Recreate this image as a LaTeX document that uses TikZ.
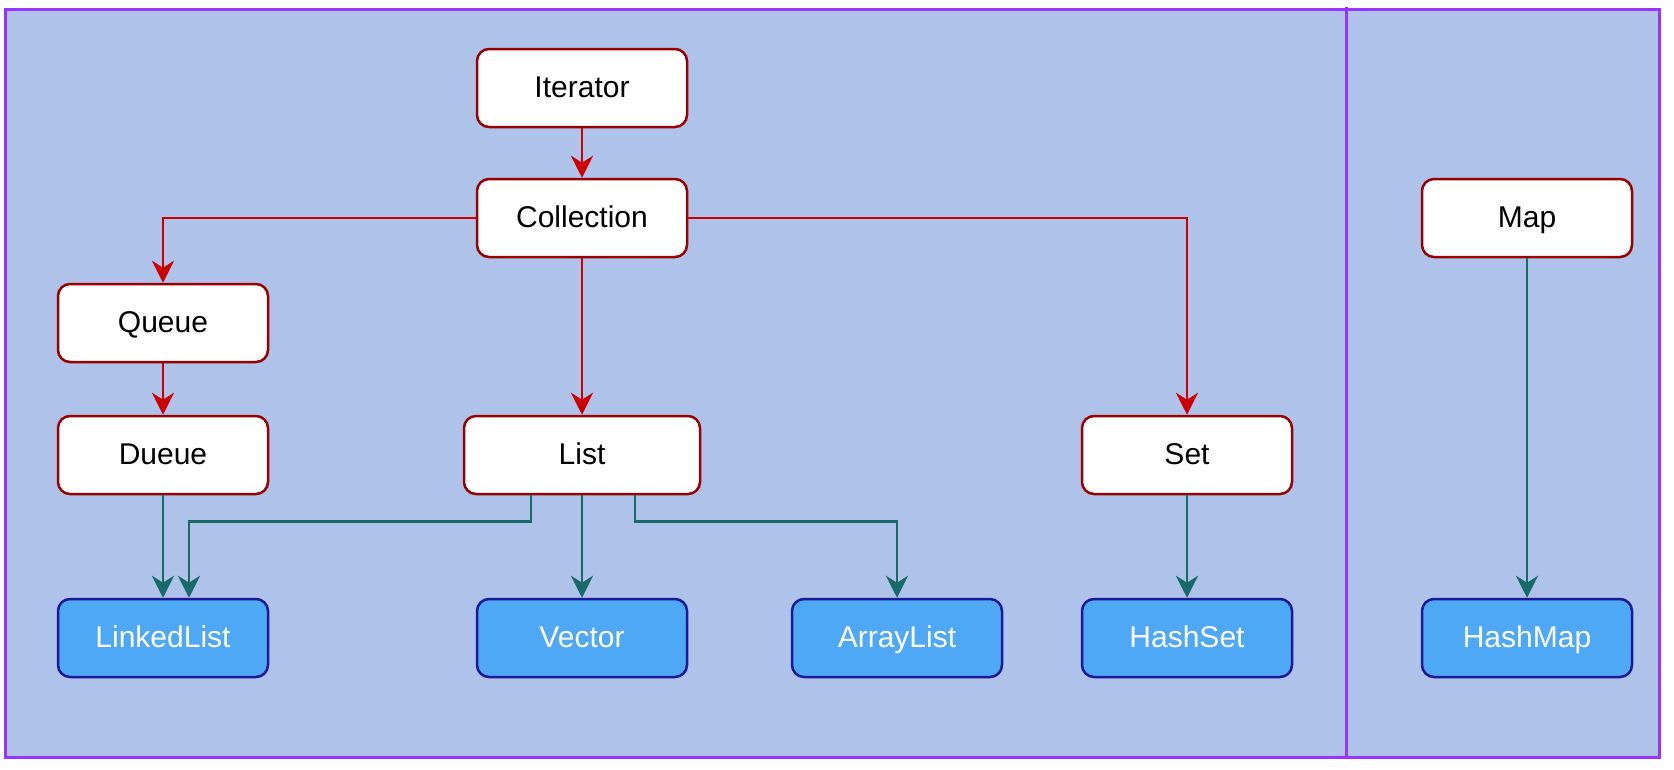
\documentclass[tikz,border=0pt]{standalone}
\usepackage{fontspec}
\setmainfont{Liberation Sans}
\usetikzlibrary{arrows.meta}
\definecolor{bgblue}{HTML}{AEC2EA}
\definecolor{framepurple}{HTML}{9933FF}
\definecolor{boxred}{HTML}{990000}
\definecolor{linered}{HTML}{CC0000}
\definecolor{lineteal}{HTML}{186A69}
\definecolor{implfill}{HTML}{4FA8F5}
\definecolor{implline}{HTML}{1A1A99}
\begin{document}
\begin{tikzpicture}[x=1pt,y=-1pt,
    iface/.style={draw=boxred,fill=white,line width=2.5pt,rounded corners=12pt,
      minimum width=210pt,minimum height=78pt,text height=23pt,text depth=4pt,
      font=\fontsize{30}{36}\selectfont},
    impl/.style={draw=implline,fill=implfill,text=white,line width=2.5pt,rounded corners=12pt,
      minimum width=210pt,minimum height=78pt,text height=23pt,text depth=4pt,
      font=\fontsize{30}{36}\selectfont},
    redline/.style={draw=linered,line width=2.8pt,-{Stealth[length=22pt,width=22pt,inset=7pt]}},
    tealline/.style={draw=lineteal,line width=2.8pt,-{Stealth[length=22pt,width=22pt,inset=7pt]}}]
    \useasboundingbox (0,0) rectangle (1674,769);
    \draw[fill=bgblue,draw=framepurple,line width=3pt] (5,9) rectangle (1659,757);
    \draw[framepurple,line width=3pt] (1346,7) -- (1346,757);
    % interfaces
    \node[iface] (iter) at (582,88) {Iterator};
    \node[iface] (coll) at (582,218) {Collection};
    \node[iface] (queue) at (163,323) {Queue};
    \node[iface] (dueue) at (163,455) {Dueue};
    \node[iface,minimum width=236pt] (list) at (582,455) {List};
    \node[iface] (set) at (1187,455) {Set};
    \node[iface] (map) at (1527,218) {Map};
    % classes
    \node[impl] (linked) at (163,638) {LinkedList};
    \node[impl] (vector) at (582,638) {Vector};
    \node[impl] (array) at (897,638) {ArrayList};
    \node[impl] (hset) at (1187,638) {HashSet};
    \node[impl] (hmap) at (1527,638) {HashMap};
    % red links
    \draw[redline] (iter) -- (coll);
    \draw[redline] (coll.west) -| (queue.north);
    \draw[redline] (coll.east) -| (set.north);
    \draw[redline] (coll) -- (list);
    \draw[redline] (queue) -- (dueue);
    % teal links
    \draw[tealline] (dueue) -- (linked);
    \draw[tealline] ([xshift=-51pt]list.south) -- ++(0,26) -| ([xshift=26pt]linked.north);
    \draw[tealline] (list) -- (vector);
    \draw[tealline] ([xshift=53pt]list.south) -- ++(0,26) -| (array.north);
    \draw[tealline] (set) -- (hset);
    \draw[tealline] (map) -- (hmap);
\end{tikzpicture}
\end{document}
